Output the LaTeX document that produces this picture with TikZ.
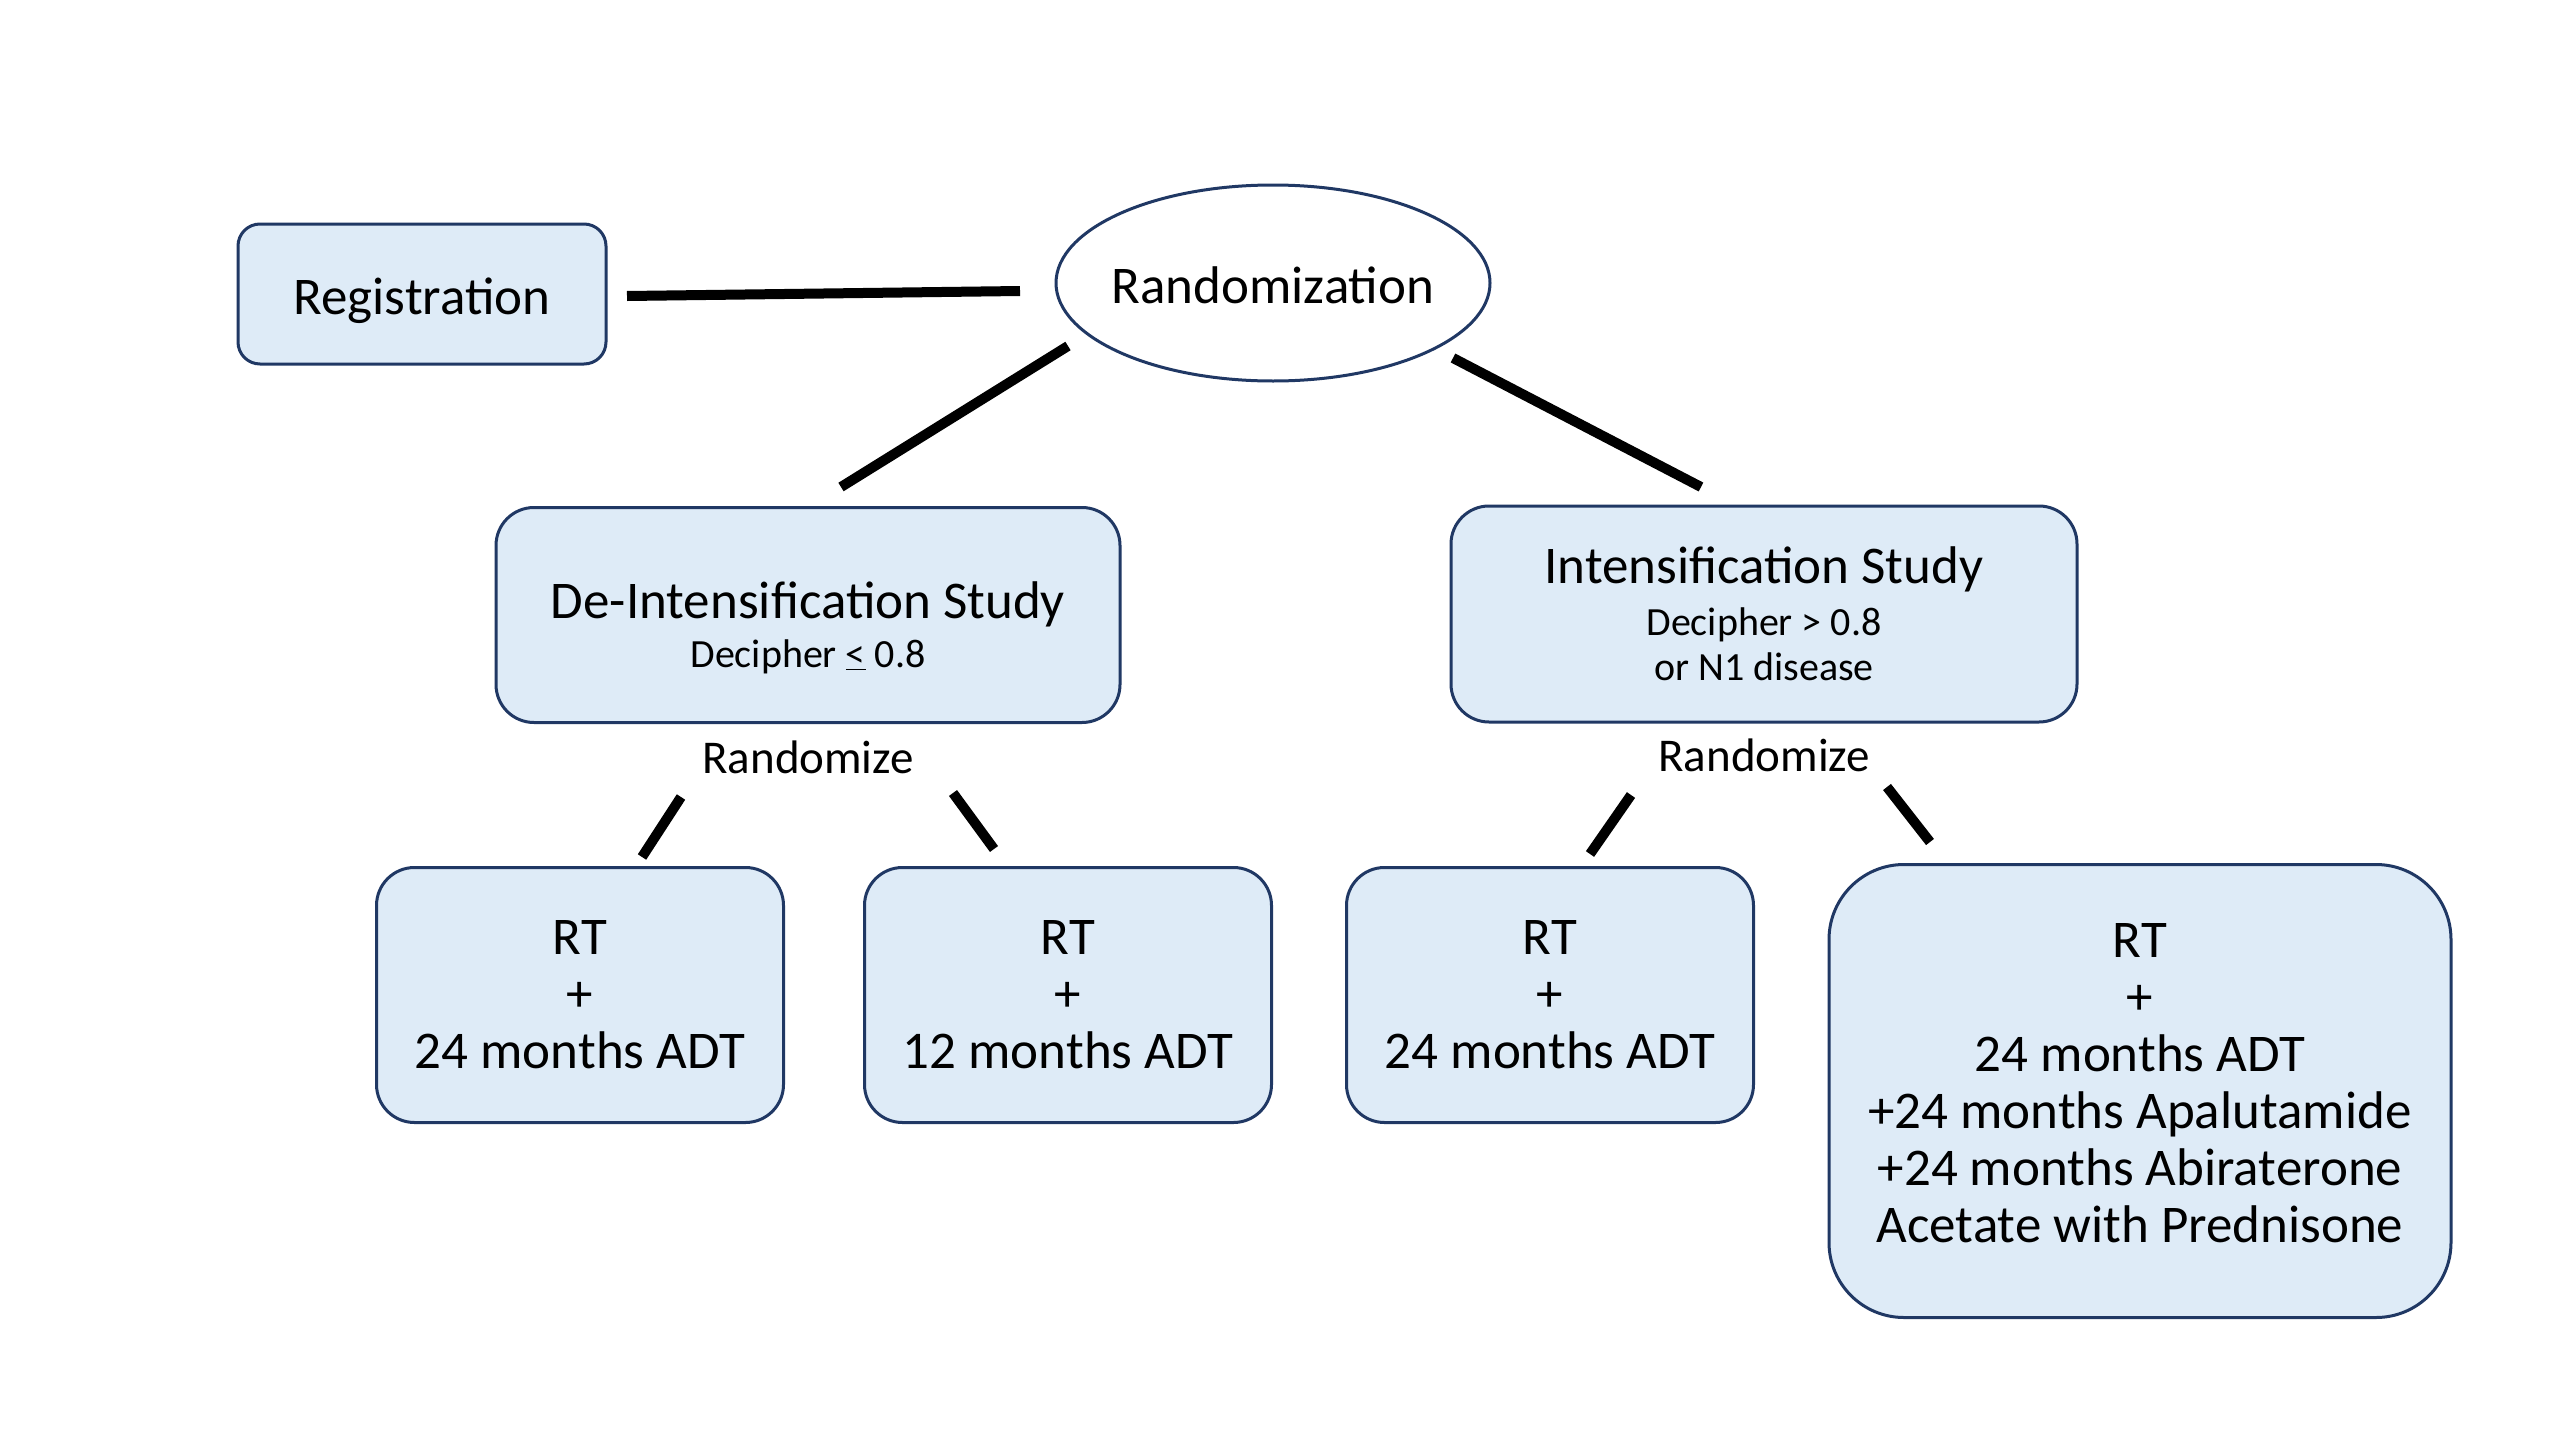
\documentclass[tikz,border=0pt]{standalone}
\usepackage{fontspec}
\setmainfont{Carlito}
\usetikzlibrary{shapes.geometric}
\definecolor{boxfill}{HTML}{DEEBF7}
\definecolor{boxline}{HTML}{203864}
\tikzset{
  box/.style={draw=boxline, fill=boxfill, line width=3, rounded corners=#1, align=center, inner sep=0},
  box/.default=38,
  conn/.style={line width=10, draw=black},
  big/.style={font=\fontsize{53}{57}\selectfont},
  sub/.style={font=\fontsize{40}{46}\selectfont, inner sep=0},
  lbl/.style={font=\fontsize{47}{50}\selectfont, inner sep=0}
}
\begin{document}
\begin{tikzpicture}[x=1pt,y=-1pt]
\useasboundingbox (0,0) rectangle (2560,1440);
\fill[white] (0,0) rectangle (2560,1440);

\node[box=22, big, minimum width=368, minimum height=140, text height=50, text depth=10] (reg) at (422,294) {Registration};
\node[ellipse, draw=boxline, line width=3, fill=white, minimum width=434, minimum height=196, inner sep=0, big, text height=50, text depth=10] (rand) at (1273,283) {\makebox[0pt]{Randomization}};

\node[box, minimum width=624, minimum height=215] (deint) at (808,615) {};
\node[big, inner sep=0] (deintt) at (808,604) {De-Intensification Study};
\node[sub] (deints) at (808,657) {Decipher \underline{<} 0.8};

\node[box, big, minimum width=626, minimum height=216] (int) at (1764,614)
  {Intensification Study\\[-5pt]
   {\fontsize{40}{46}\selectfont Decipher > 0.8}\\[-12pt]
   {\fontsize{40}{46}\selectfont or N1 disease}};

\node[lbl] (rz1) at (808,757) {Randomize};
\node[lbl] (rz2) at (1764,755) {Randomize};

\node[box, big, minimum width=407, minimum height=255] (b1) at (580,995) {RT\\+\\24 months ADT};
\node[box, big, minimum width=407, minimum height=255] (b2) at (1068,995) {RT\\+\\12 months ADT};
\node[box, big, minimum width=407, minimum height=255] (b3) at (1550,995) {RT\\+\\24 months ADT};
\node[box=75, minimum width=622, minimum height=453] (b4) at (2140,1091) {};
\node[big, align=center, inner sep=0] (b4t) at (2140,1083)
  {RT\\+\\24 months ADT\\+24 months Apalutamide\\+24 months Abiraterone\\Acetate with Prednisone};

% connector end points
\coordinate (c1a) at (627,296);  \coordinate (c1b) at (1020,291);
\coordinate (c2a) at (1068,346); \coordinate (c2b) at (841,487);
\coordinate (c3a) at (1453,358); \coordinate (c3b) at (1701,487);
\coordinate (c4a) at (681,797);  \coordinate (c4b) at (642,857);
\coordinate (c5a) at (953,793);  \coordinate (c5b) at (994,849);
\coordinate (c6a) at (1631,795); \coordinate (c6b) at (1590,854);
\coordinate (c7a) at (1887,787); \coordinate (c7b) at (1930,842);

\draw[conn] (c1a) -- (c1b);
\draw[conn] (c2a) -- (c2b);
\draw[conn] (c3a) -- (c3b);
\draw[conn] (c4a) -- (c4b);
\draw[conn] (c5a) -- (c5b);
\draw[conn] (c6a) -- (c6b);
\draw[conn] (c7a) -- (c7b);
\end{tikzpicture}
\end{document}
